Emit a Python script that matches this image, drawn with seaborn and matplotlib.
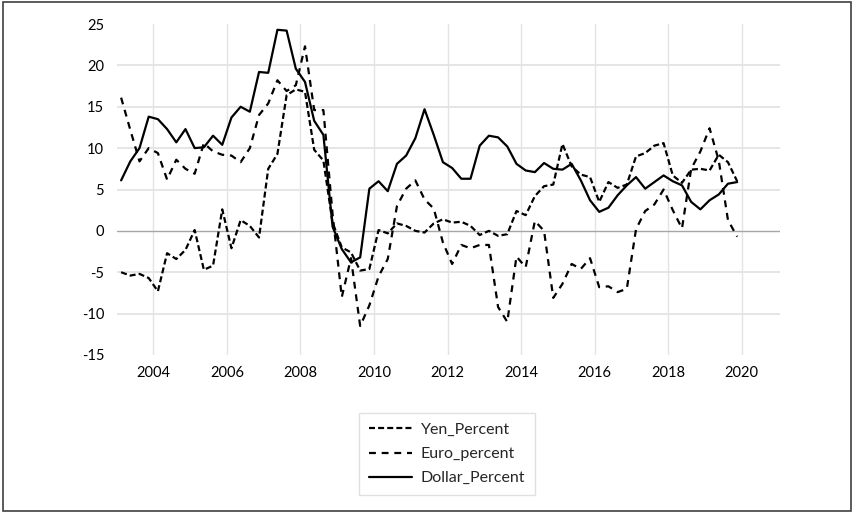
import numpy as np
import pandas as pd
import matplotlib
matplotlib.use("Agg")
import matplotlib.pyplot as plt
import matplotlib.patches as mpatches
import seaborn as sns

# ---- data (quarterly) ----
start_year = 2003.125
step = 0.25

yen_percent = [
    -5.0, -5.4, -5.2, -5.7, -7.3, -2.7, -3.4, -2.3, 0.1, -4.7,
    -4.2, 2.6, -2.1, 1.3, 0.6, -0.8, 7.5, 9.3, 16.4, 17.1,
    16.8, 9.8, 8.5, 1.0, -2.0, -2.6, -4.8, -4.6, 0.1, -0.3,
    0.9, 0.6, 0.0, -0.2, 0.9, 1.4, 1.0, 1.1, 0.6, -0.5,
    0.0, -0.6, -0.4, 2.4, 1.9, 4.2, 5.4, 5.6, 10.5, 7.8,
    6.8, 6.5, 3.5, 5.9, 5.2, 5.6, 9.0, 9.4, 10.3, 10.6,
    6.7, 5.8, 7.4, 7.5, 7.3, 9.2, 8.3, 6.0,
]

euro_percent = [
    16.1, 12.2, 8.4, 10.0, 9.4, 6.2, 8.6, 7.5, 6.9, 10.6,
    9.6, 9.2, 9.1, 8.3, 10.0, 14.0, 15.4, 18.2, 16.9, 17.6,
    22.3, 14.6, 14.6, 2.0, -8.0, -3.3, -11.5, -9.0, -5.5, -3.4,
    3.0, 5.1, 6.1, 3.8, 2.7, -1.4, -4.0, -1.7, -2.1, -1.7,
    -1.7, -9.2, -11.0, -3.1, -4.4, 1.2, 0.0, -8.1, -6.4, -4.0,
    -4.6, -3.3, -6.8, -6.7, -7.4, -7.0, 0.2, 2.4, 3.2, 5.0,
    2.5, 0.3, 7.5, 9.6, 12.4, 8.5, 1.3, -0.7,
]

dollar_percent = [
    6.1, 8.4, 10.0, 13.8, 13.5, 12.3, 10.7, 12.3, 10.0, 10.1,
    11.5, 10.4, 13.7, 15.0, 14.4, 19.2, 19.1, 24.3, 24.2, 19.6,
    18.0, 13.3, 11.6, 0.5, -2.2, -3.8, -3.2, 5.1, 6.0, 4.8,
    8.1, 9.1, 11.2, 14.7, 11.6, 8.3, 7.6, 6.3, 6.3, 10.3,
    11.5, 11.3, 10.2, 8.1, 7.3, 7.1, 8.2, 7.5, 7.4, 8.1,
    6.1, 3.7, 2.3, 2.8, 4.3, 5.5, 6.5, 5.1, 5.9, 6.7,
    6.0, 5.5, 3.5, 2.6, 3.7, 4.4, 5.7, 5.9,
]

series_names = ["Yen_Percent", "Euro_percent", "Dollar_Percent"]
x_ticks = list(range(2004, 2021, 2))
y_ticks = list(range(-15, 26, 5))

# ---- build long-form table ----
n = len(dollar_percent)
years = [start_year + step * i for i in range(n)]
df = pd.DataFrame({
    "year": years * 3,
    "value": yen_percent + euro_percent + dollar_percent,
    "series": sum([[s] * n for s in series_names], []),
})

sns.set_theme(style="white")
plt.rcParams["font.family"] = ["Lato", "DejaVu Sans"]

fig = plt.figure(figsize=(8.54, 5.13), dpi=100)
fig.patch.set_facecolor("white")
ax = fig.add_axes([116.7 / 854, 1 - 355 / 513, (780 - 116.7) / 854, (355 - 24) / 513])
ax.set_facecolor("white")

lw = 1.6
styles = {
    "Yen_Percent": (0, (2.7, 1.4)),
    "Euro_percent": (0, (3.1, 2.6)),
    "Dollar_Percent": "-",
}
for s in series_names:
    sub = df[df["series"] == s]
    sns.lineplot(data=sub, x="year", y="value", ax=ax, color="black",
                 linewidth=lw, linestyle=styles[s], label=s, zorder=3)

ax.set_xlim(2003.005, 2021.04)
ax.set_ylim(-15, 25)
ax.set_xticks(x_ticks)
ax.set_xticklabels([str(t) for t in x_ticks])
ax.set_yticks(y_ticks)
ax.set_yticklabels([str(t) for t in y_ticks])
ax.tick_params(axis="both", length=0, labelsize=10.5, colors="black")
ax.tick_params(axis="x", pad=8)
ax.tick_params(axis="y", pad=9)
ax.set_xlabel("")
ax.set_ylabel("")
for sp in ax.spines.values():
    sp.set_visible(False)

# gridlines
for xv in x_ticks:
    ax.axvline(xv, color="#e3e3e3", lw=1.0, zorder=0.5)
for yv in y_ticks:
    if yv in (-15, 25):
        continue
    if yv == 0:
        ax.axhline(yv, color="#a6a6a6", lw=1.0, zorder=1)
    else:
        ax.axhline(yv, color="#e3e3e3", lw=1.3, zorder=0.5)

# legend
ax.get_legend().remove()
handles, labels = ax.get_legend_handles_labels()
leg = fig.legend(handles, labels, loc="center",
                 bbox_to_anchor=((356 + 538) / 2 / 854, 1 - (409 + 499) / 2 / 513),
                 frameon=True, fontsize=11.5, handlelength=2.7, handletextpad=0.55,
                 labelspacing=0.62, borderpad=0.6, fancybox=False)
leg.get_frame().set_edgecolor("#d9d9d9")
leg.get_frame().set_linewidth(1.0)

# chart border
fig.patches.append(mpatches.Rectangle((2.5 / 854, 2.5 / 513), 1 - 5 / 854, 1 - 4.5 / 513,
                                      transform=fig.transFigure, fill=False,
                                      edgecolor="#404040", lw=1.2))

fig.savefig("out.png", dpi=100, facecolor="white")
